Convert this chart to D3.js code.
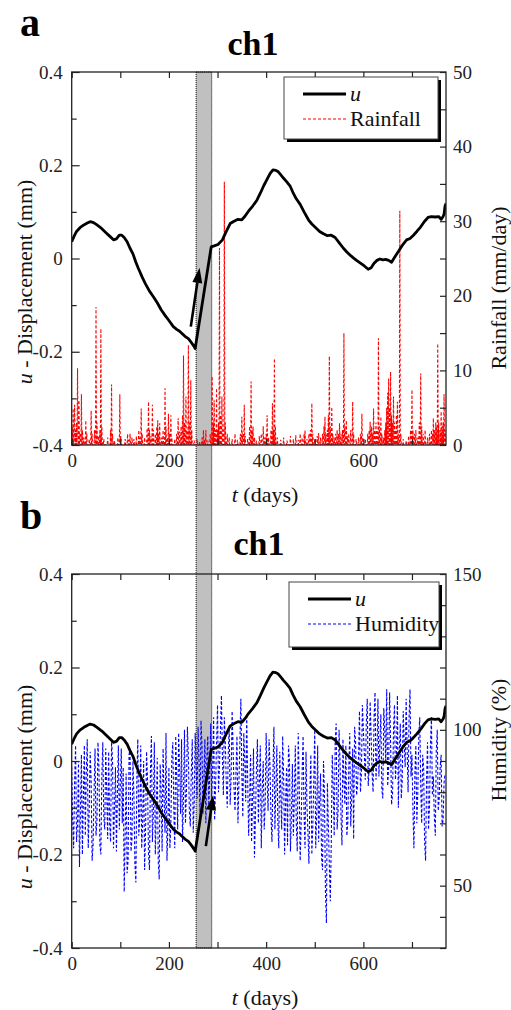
<!DOCTYPE html>
<html>
<head>
<meta charset="utf-8">
<script src="https://cdn.jsdelivr.net/npm/d3@7.9.0/dist/d3.min.js"></script>
<style>
  body { margin: 0; background: #fff; }
</style>
</head>
<body>
<svg id="chart" width="511" height="1010"></svg>
<script>
// displacement u (mm) vs day
const uDays = [0,5,10,17,25,32,38,45,52,62,70,78,86,92,98,103,108,114,120,126,132,137,145,152,160,168,176,184,192,200,209,216,222,228,233,240,246,252,254,
  287,293,301,310,318,326,334,342,350,356,364,372,381,388,395,401,408,414,420,425,429,436,442,449,455,462,470,478,487,494,502,510,518,526,534,542,550,559,566,574,580,586,594,602,610,616,622,628,634,640,646,652,658,664,670,675,682,689,696,703,710,718,726,733,740,748,755,760,764,766,768,770];
const uValues = [0.036,0.048,0.058,0.066,0.072,0.076,0.079,0.077,0.072,0.064,0.056,0.048,0.040,0.042,0.050,0.050,0.045,0.036,0.022,0.010,-0.008,-0.021,-0.040,-0.055,-0.070,-0.082,-0.095,-0.110,-0.122,-0.133,-0.146,-0.152,-0.156,-0.162,-0.167,-0.172,-0.180,-0.189,-0.193,
  0.025,0.027,0.030,0.040,0.058,0.075,0.080,0.084,0.083,0.090,0.102,0.112,0.125,0.140,0.156,0.168,0.182,0.190,0.189,0.186,0.181,0.172,0.165,0.156,0.142,0.128,0.116,0.100,0.083,0.074,0.066,0.058,0.053,0.049,0.050,0.045,0.034,0.022,0.014,0.006,0.001,-0.004,-0.010,-0.016,-0.023,-0.020,-0.010,-0.004,-0.001,-0.003,-0.002,-0.004,-0.008,0.002,0.012,0.020,0.031,0.040,0.043,0.050,0.058,0.068,0.080,0.088,0.090,0.089,0.090,0.084,0.090,0.095,0.112,0.118];

// rainfall events [day, mm/day]; other days are dry
const rainfall = [[1,2.5],[3,4.9],[5,1.2],[6,5.4],[8,2],[10,3],[12,10.3],[13,2.5],[15,6],[17,1.5],[20,6.8],[22,2],[25,1],[29,3.3],[31,1.5],[36,0.8],[40,4.6],[42,1.5],[47,2],[50,18.5],[52,3],[55,1.2],[58,2],[60,15.6],[62,2.5],[66,0.8],[74,1],[80,2],[82,8.1],[84,1.5],[88,0.6],[95,1],[99,6.8],[101,1.2],[110,0.8],[115,1.5],[118,0.7],[120,1.5],[124,1],[128,0.8],[133,1.2],[138,2],[140,1],[143,4.9],[145,1.5],[150,1],[155,2.2],[158,5.8],[160,2],[163,1.2],[166,5.4],[168,2],[172,1.5],[175,2.5],[177,3.3],[179,1.5],[181,2.9],[185,1],[188,2],[192,7.6],[194,2.5],[197,1],[199,4.2],[201,1.5],[204,4],[206,1],[212,0.8],[216,1.5],[219,3.6],[222,1.8],[225,2.5],[228,4],[230,12],[232,3],[235,6.5],[237,2],[240,13.4],[242,3],[245,8.7],[247,2],[252,0.6],[258,0.8],[263,0.5],[268,1],[271,2],[273,0.7],[276,2],[280,0.6],[285,1.5],[289,9.2],[291,3],[293,6],[295,2],[298,7.6],[300,2],[302,3],[304,26.4],[306,4],[309,6.5],[311,2],[314,35.3],[316,3],[320,1.5],[324,1],[330,0.8],[336,1.5],[341,0.7],[347,1.5],[350,3.8],[352,1.5],[355,5.4],[357,1.2],[362,0.8],[366,2.5],[369,8.5],[371,2],[373,2.5],[376,1],[380,0.6],[386,1.2],[390,1.5],[394,2.5],[397,1],[400,1.5],[402,4],[405,1],[410,2],[413,5.6],[415,2],[417,11.6],[419,2.5],[423,1],[430,0.7],[436,1],[443,0.6],[450,1.2],[456,0.8],[461,1.3],[466,0.7],[470,1.5],[474,1],[478,1.5],[480,2],[484,0.8],[488,1.5],[491,2],[494,5.6],[496,1.5],[500,0.8],[505,1.2],[508,1.6],[512,1],[516,1.5],[519,2.5],[521,3.8],[523,1.5],[526,2],[528,4],[530,11.9],[532,2.5],[535,5.1],[537,1.5],[540,1],[543,1.5],[546,2],[549,1.5],[551,2.9],[554,1.5],[557,2],[560,15],[562,2.5],[565,3.3],[567,1.2],[570,1.5],[574,2],[578,5.8],[580,1.5],[585,0.8],[590,1],[594,1.5],[597,4.2],[599,1],[604,0.8],[609,1.5],[612,2],[614,3.1],[617,2.5],[619,1.5],[621,4.9],[623,2],[626,3],[628,2],[631,14.3],[633,2.5],[636,3.8],[638,1.5],[641,1],[644,2],[646,3],[648,5],[650,7],[652,8.9],[654,5],[656,9.8],[658,4],[660,3],[662,6.5],[664,3],[666,2],[668,4],[670,5.8],[672,1.5],[675,31.4],[677,1.5],[682,0.8],[688,0.6],[693,1.2],[697,2],[700,7.4],[702,2],[705,1.5],[708,2],[712,1],[715,3],[718,9.6],[720,2.5],[723,1.5],[727,2],[732,1],[736,1.5],[740,2],[742,1.5],[744,3.6],[746,2],[749,3],[751,2.5],[753,13.6],[755,3],[758,2],[760,4.5],[762,2.5],[764,3],[766,6.8],[768,2]];

// humidity (%), one reading every 2 days from day 0
const humidityStep = 2;
const humidity = [88,71,62,83,95,64,70,90,56,74,92,60,78,95,66,86,97,62,74,93,84,58,63,80,94,66,71,96,88,63,60,85,96,72,68,94,80,65,93,70,64,97,90,62,75,88,61,79,95,68,82,
  94,70,88,48,66,86,54,58,92,94,61,65,90,79,57,51,84,97,66,72,95,62,71,90,55,68,93,84,60,55,87,98,64,74,96,60,73,91,58,52,89,80,61,94,78,67,99,58,70,88,
  62,70,91,96,75,62,98,85,68,99,88,73,97,64,79,100,70,80,101,92,74,69,86,97,67,76,99,88,78,101,90,72,103,95,73,84,97,70,91,98,75,86,102,78,88,104,71,82,96,108,
  80,88,100,111,92,79,104,96,83,75,92,101,76,85,106,94,81,74,87,98,70,83,96,110,86,72,99,90,77,105,84,66,78,92,64,78,94,59,72,87,97,70,83,95,62,81,90,68,76,99,
  84,74,97,88,72,64,86,101,68,80,95,71,62,93,80,68,98,85,60,77,88,63,95,90,61,72,89,66,78,95,70,61,99,83,58,70,86,98,73,62,93,76,67,57,80,92,60,69,84,100,
  62,73,95,64,77,86,59,55,90,79,48,38,83,70,56,45,64,92,82,66,96,102,68,74,100,90,72,63,97,84,76,95,66,70,88,99,69,78,94,65,101,96,79,82,91,106,80,86,108,100,
  92,84,102,110,82,88,109,98,86,80,104,112,84,92,110,85,96,105,81,78,107,100,90,113,82,88,112,96,76,79,100,108,84,90,111,75,93,102,78,84,106,96,88,110,94,80,104,113,85,92,
  74,62,86,95,70,80,98,104,82,70,92,88,64,58,84,96,68,75,95,104,79,85,72,66,93,100,74,78,88,92,69,71,83,86];

const band = [256, 288];
const xTicks = [0, 200, 400, 600];
const uTicks = [-0.4, -0.2, 0, 0.2, 0.4];
const rainTicks = [0, 10, 20, 30, 40, 50];
const humTicks = [50, 100, 150];

const FONT = 'Liberation Serif';
const svg = d3.select('#chart');
const x = d3.scaleLinear().domain([0, 770]).range([71.7, 446]);

const uSeries = uDays.map((d, i) => [d, uValues[i]]);
const rainMap = new Map(rainfall);
const rainSeries = d3.range(0, 771).map(d => [d, rainMap.get(d) || 0]);
const humSeries = humidity.map((h, i) => [i * humidityStep, h]);

const panels = [
  { top: 72, bottom: 445, letter: 'a', letterY: 36, titleX: 253, titleY: 55,
    r: d3.scaleLinear().domain([0, 50]), rTicks: rainTicks, rMinor: d3.range(0, 51, 5),
    rLabel: 'Rainfall (mm/day)', rLabelY: 288, series: rainSeries, color: '#ff0000',
    legendName: 'Rainfall', legend: { x: 284, y: 77, w: 154, h: 62 },
    arrow: [[245, -0.146], [263, -0.02]], uLabelY: 282 },
  { top: 574, bottom: 948, letter: 'b', letterY: 529, titleX: 259, titleY: 555,
    r: d3.scaleLinear().domain([30, 150]), rTicks: humTicks, rMinor: d3.range(30, 151, 10),
    rLabel: 'Humidity (%)', rLabelY: 740, series: humSeries, color: '#0000ff',
    legendName: 'Humidity', legend: { x: 289, y: 582, w: 150, h: 65 },
    arrow: [[276, -0.182], [291, -0.073]], uLabelY: 787 }
];

// shaded interval spanning both panels
svg.append('rect')
  .attr('x', x(band[0])).attr('y', panels[0].top)
  .attr('width', x(band[1]) - x(band[0]))
  .attr('height', panels[1].bottom - panels[0].top)
  .attr('fill', '#c0c0c0')
  .attr('stroke', '#000').attr('stroke-width', 1)
  .attr('stroke-dasharray', '1,1');

const uFmt = d => d === 0 ? '0' : d.toFixed(1);

panels.forEach((p, k) => {
  const y = d3.scaleLinear().domain([-0.4, 0.4]).range([p.bottom, p.top]);
  p.r.range([p.bottom, p.top]);
  const g = svg.append('g');

  const clipId = 'clip' + k;
  g.append('clipPath').attr('id', clipId)
    .append('rect').attr('x', x(0)).attr('y', p.top)
    .attr('width', x(770) - x(0)).attr('height', p.bottom - p.top);

  // right-axis series (dashed)
  g.append('path')
    .datum(p.series)
    .attr('clip-path', `url(#${clipId})`)
    .attr('fill', 'none')
    .attr('stroke', p.color)
    .attr('stroke-width', 1.1)
    .attr('stroke-dasharray', '3,2')
    .attr('d', d3.line().x(d => x(d[0])).y(d => p.r(d[1])));

  // displacement
  g.append('path')
    .datum(uSeries)
    .attr('clip-path', `url(#${clipId})`)
    .attr('fill', 'none')
    .attr('stroke', '#000')
    .attr('stroke-width', 2.8)
    .attr('stroke-linejoin', 'round')
    .attr('d', d3.line().x(d => x(d[0])).y(d => y(d[1])));

  // arrow
  const [a0, a1] = p.arrow;
  const x0 = x(a0[0]), y0 = y(a0[1]), x1 = x(a1[0]), y1 = y(a1[1]);
  const len = Math.hypot(x1 - x0, y1 - y0);
  const ux = (x1 - x0) / len, uy = (y1 - y0) / len;
  const hl = 15, hw = 5;
  const bx = x1 - ux * hl, by = y1 - uy * hl;
  g.append('line')
    .attr('x1', x0).attr('y1', y0).attr('x2', bx).attr('y2', by)
    .attr('stroke', '#000').attr('stroke-width', 2.6);
  g.append('path')
    .attr('d', `M${x1},${y1}L${bx - uy * hw},${by + ux * hw}L${bx + uy * hw},${by - ux * hw}Z`)
    .attr('fill', '#000');

  // frame
  g.append('rect')
    .attr('x', x(0)).attr('y', p.top)
    .attr('width', x(770) - x(0)).attr('height', p.bottom - p.top)
    .attr('fill', 'none').attr('stroke', '#222').attr('stroke-width', 1.3);

  const tickStyle = sel => {
    sel.select('.domain').remove();
    sel.selectAll('line').attr('stroke', '#222').attr('stroke-width', 1.2);
    sel.selectAll('text').attr('font-size', 19).attr('fill', '#222');
  };

  // bottom axis
  g.append('g').attr('transform', `translate(0,${p.bottom})`)
    .call(d3.axisBottom(x).tickValues(d3.range(0, 771, 100)).tickSize(-6).tickFormat(''))
    .call(tickStyle);
  g.append('g').attr('transform', `translate(0,${p.bottom})`)
    .call(d3.axisBottom(x).tickValues(xTicks).tickSize(0).tickPadding(9).tickFormat(d3.format('d')))
    .call(tickStyle);
  // top axis
  g.append('g').attr('transform', `translate(0,${p.top})`)
    .call(d3.axisTop(x).tickValues(d3.range(0, 771, 100)).tickSize(-6).tickFormat(''))
    .call(tickStyle);

  // left axis
  g.append('g').attr('transform', `translate(${x(0)},0)`)
    .call(d3.axisLeft(y).tickValues(d3.range(-0.3, 0.4, 0.2)).tickSize(-5).tickFormat(''))
    .call(tickStyle);
  g.append('g').attr('transform', `translate(${x(0)},0)`)
    .call(d3.axisLeft(y).tickValues(uTicks).tickSize(-8).tickPadding(9).tickFormat(uFmt))
    .call(tickStyle);

  // right axis
  g.append('g').attr('transform', `translate(${x(770)},0)`)
    .call(d3.axisRight(p.r).tickValues(p.rMinor).tickSize(-6).tickFormat(''))
    .call(tickStyle);
  g.append('g').attr('transform', `translate(${x(770)},0)`)
    .call(d3.axisRight(p.r).tickValues(p.rTicks).tickSize(0).tickPadding(7).tickFormat(d3.format('d')))
    .call(tickStyle);

  // axis titles
  const xt = g.append('text')
    .attr('x', 265).attr('y', p.bottom + 57)
    .attr('text-anchor', 'middle').attr('font-size', 22).attr('fill', '#111');
  xt.append('tspan').attr('font-style', 'italic').text('t');
  xt.append('tspan').text(' (days)');

  const yt = g.append('text')
    .attr('transform', `translate(32,${p.uLabelY}) rotate(-90)`)
    .attr('text-anchor', 'middle').attr('font-size', 22).attr('fill', '#111');
  yt.append('tspan').attr('font-style', 'italic').text('u');
  yt.append('tspan').text(' - Displacement (mm)');

  g.append('text')
    .attr('transform', `translate(506,${p.rLabelY}) rotate(-90)`)
    .attr('text-anchor', 'middle').attr('font-size', 22).attr('fill', '#111')
    .text(p.rLabel);

  // title and panel letter
  g.append('text').attr('x', p.titleX).attr('y', p.titleY)
    .attr('text-anchor', 'middle').attr('font-size', 34).attr('font-weight', 'bold')
    .attr('fill', '#000').text('ch1');
  g.append('text').attr('x', 20).attr('y', p.letterY)
    .attr('font-size', 40).attr('font-weight', 'bold').attr('fill', '#000').text(p.letter);

  // legend
  const L = p.legend;
  g.append('rect').attr('x', L.x + 3).attr('y', L.y + 3).attr('width', L.w).attr('height', L.h)
    .attr('fill', '#000');
  g.append('rect').attr('x', L.x).attr('y', L.y).attr('width', L.w).attr('height', L.h)
    .attr('fill', '#fff').attr('stroke', '#444').attr('stroke-width', 1);
  const rows = [
    { name: 'u', italic: true, stroke: '#000', w: 2.8, dash: null },
    { name: p.legendName, italic: false, stroke: p.color, w: 1.1, dash: '3,2' }
  ];
  rows.forEach((row, i) => {
    const ry = L.y + 17 + i * 25;
    g.append('line')
      .attr('x1', L.x + 19).attr('x2', L.x + 62).attr('y1', ry).attr('y2', ry)
      .attr('stroke', row.stroke).attr('stroke-width', row.w)
      .attr('stroke-dasharray', row.dash);
    g.append('text').attr('x', L.x + 66).attr('y', ry + 7)
      .attr('font-size', 22).attr('fill', '#111')
      .attr('font-style', row.italic ? 'italic' : 'normal')
      .text(row.name);
  });
});

// serif face for every label (axis groups default to sans-serif)
svg.selectAll('g').attr('font-family', FONT);
svg.selectAll('text').style('font-family', FONT);
</script>
</body>
</html>
